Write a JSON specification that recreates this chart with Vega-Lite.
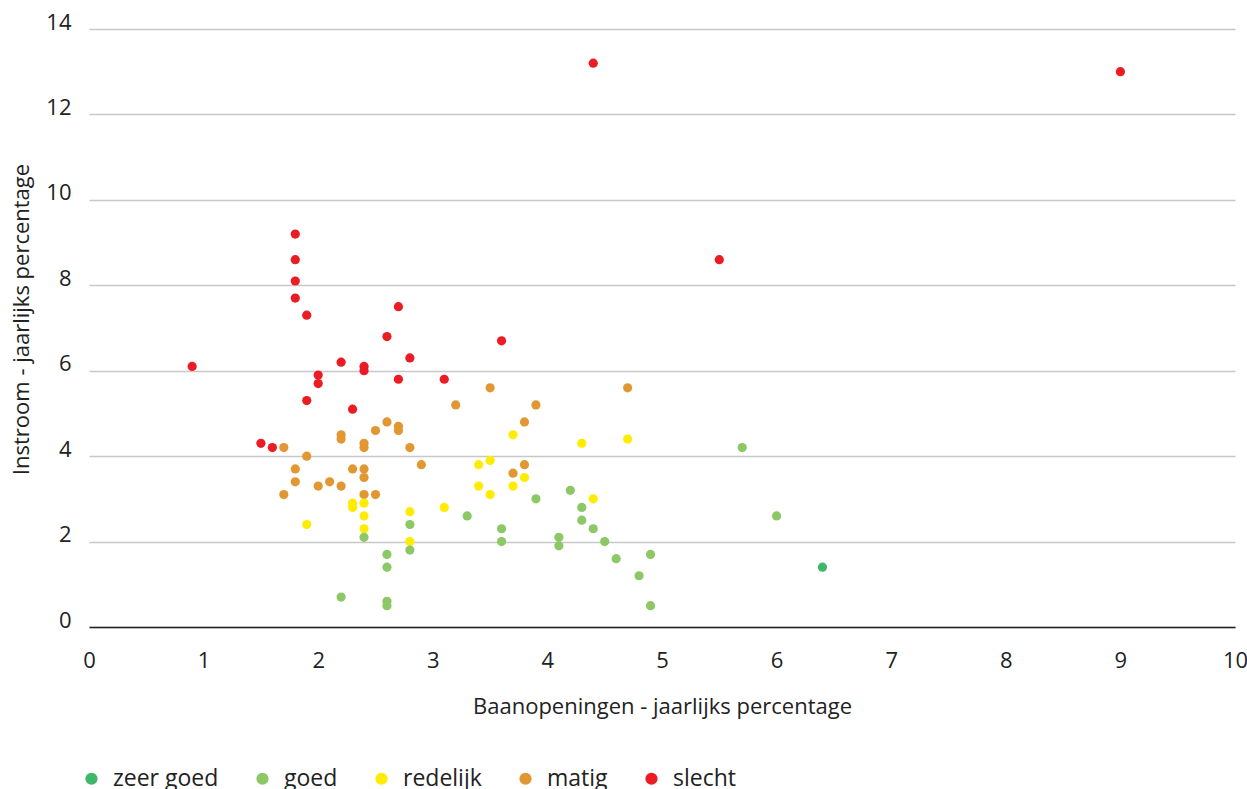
{
  "$schema": "https://vega.github.io/schema/vega-lite/v6.json",
  "width": 1146,
  "height": 598,
  "autosize": "none",
  "padding": {"left": 89, "top": 29, "right": 12, "bottom": 162},
  "config": {"view": {"stroke": null}, "font": "Open Sans"},
  "data": {"values": [
    {"x": 0.9, "y": 6.1, "c": "slecht"},
    {"x": 1.8, "y": 9.2, "c": "slecht"},
    {"x": 1.8, "y": 8.6, "c": "slecht"},
    {"x": 1.8, "y": 8.1, "c": "slecht"},
    {"x": 1.8, "y": 7.7, "c": "slecht"},
    {"x": 1.9, "y": 7.3, "c": "slecht"},
    {"x": 2.7, "y": 7.5, "c": "slecht"},
    {"x": 2.6, "y": 6.8, "c": "slecht"},
    {"x": 2.8, "y": 6.3, "c": "slecht"},
    {"x": 3.6, "y": 6.7, "c": "slecht"},
    {"x": 2.2, "y": 6.2, "c": "slecht"},
    {"x": 2.4, "y": 6.1, "c": "slecht"},
    {"x": 2.4, "y": 6.0, "c": "slecht"},
    {"x": 2.0, "y": 5.9, "c": "slecht"},
    {"x": 2.0, "y": 5.7, "c": "slecht"},
    {"x": 2.7, "y": 5.8, "c": "slecht"},
    {"x": 3.1, "y": 5.8, "c": "slecht"},
    {"x": 1.9, "y": 5.3, "c": "slecht"},
    {"x": 2.3, "y": 5.1, "c": "slecht"},
    {"x": 1.5, "y": 4.3, "c": "slecht"},
    {"x": 1.6, "y": 4.2, "c": "slecht"},
    {"x": 4.4, "y": 13.2, "c": "slecht"},
    {"x": 9.0, "y": 13.0, "c": "slecht"},
    {"x": 5.5, "y": 8.6, "c": "slecht"},
    {"x": 2.6, "y": 4.8, "c": "matig"},
    {"x": 2.7, "y": 4.7, "c": "matig"},
    {"x": 2.7, "y": 4.6, "c": "matig"},
    {"x": 2.5, "y": 4.6, "c": "matig"},
    {"x": 2.2, "y": 4.5, "c": "matig"},
    {"x": 2.2, "y": 4.4, "c": "matig"},
    {"x": 2.4, "y": 4.3, "c": "matig"},
    {"x": 2.4, "y": 4.2, "c": "matig"},
    {"x": 1.7, "y": 4.2, "c": "matig"},
    {"x": 2.8, "y": 4.2, "c": "matig"},
    {"x": 1.9, "y": 4.0, "c": "matig"},
    {"x": 2.9, "y": 3.8, "c": "matig"},
    {"x": 1.8, "y": 3.7, "c": "matig"},
    {"x": 2.3, "y": 3.7, "c": "matig"},
    {"x": 2.4, "y": 3.7, "c": "matig"},
    {"x": 2.4, "y": 3.5, "c": "matig"},
    {"x": 1.8, "y": 3.4, "c": "matig"},
    {"x": 2.1, "y": 3.4, "c": "matig"},
    {"x": 2.0, "y": 3.3, "c": "matig"},
    {"x": 2.2, "y": 3.3, "c": "matig"},
    {"x": 1.7, "y": 3.1, "c": "matig"},
    {"x": 2.4, "y": 3.1, "c": "matig"},
    {"x": 2.5, "y": 3.1, "c": "matig"},
    {"x": 3.5, "y": 5.6, "c": "matig"},
    {"x": 4.7, "y": 5.6, "c": "matig"},
    {"x": 3.2, "y": 5.2, "c": "matig"},
    {"x": 3.9, "y": 5.2, "c": "matig"},
    {"x": 3.8, "y": 4.8, "c": "matig"},
    {"x": 3.7, "y": 3.6, "c": "matig"},
    {"x": 3.8, "y": 3.8, "c": "matig"},
    {"x": 2.3, "y": 2.9, "c": "redelijk"},
    {"x": 2.3, "y": 2.8, "c": "redelijk"},
    {"x": 2.4, "y": 2.9, "c": "redelijk"},
    {"x": 2.8, "y": 2.7, "c": "redelijk"},
    {"x": 3.1, "y": 2.8, "c": "redelijk"},
    {"x": 2.4, "y": 2.6, "c": "redelijk"},
    {"x": 1.9, "y": 2.4, "c": "redelijk"},
    {"x": 2.4, "y": 2.3, "c": "redelijk"},
    {"x": 2.8, "y": 2.0, "c": "redelijk"},
    {"x": 3.7, "y": 4.5, "c": "redelijk"},
    {"x": 4.3, "y": 4.3, "c": "redelijk"},
    {"x": 4.7, "y": 4.4, "c": "redelijk"},
    {"x": 3.4, "y": 3.8, "c": "redelijk"},
    {"x": 3.5, "y": 3.9, "c": "redelijk"},
    {"x": 3.8, "y": 3.5, "c": "redelijk"},
    {"x": 3.4, "y": 3.3, "c": "redelijk"},
    {"x": 3.7, "y": 3.3, "c": "redelijk"},
    {"x": 3.5, "y": 3.1, "c": "redelijk"},
    {"x": 4.4, "y": 3.0, "c": "redelijk"},
    {"x": 2.8, "y": 2.4, "c": "goed"},
    {"x": 2.4, "y": 2.1, "c": "goed"},
    {"x": 2.8, "y": 1.8, "c": "goed"},
    {"x": 2.6, "y": 1.7, "c": "goed"},
    {"x": 2.6, "y": 1.4, "c": "goed"},
    {"x": 2.2, "y": 0.7, "c": "goed"},
    {"x": 2.6, "y": 0.6, "c": "goed"},
    {"x": 2.6, "y": 0.5, "c": "goed"},
    {"x": 3.9, "y": 3.0, "c": "goed"},
    {"x": 4.2, "y": 3.2, "c": "goed"},
    {"x": 4.3, "y": 2.8, "c": "goed"},
    {"x": 3.3, "y": 2.6, "c": "goed"},
    {"x": 4.3, "y": 2.5, "c": "goed"},
    {"x": 3.6, "y": 2.3, "c": "goed"},
    {"x": 4.4, "y": 2.3, "c": "goed"},
    {"x": 4.1, "y": 2.1, "c": "goed"},
    {"x": 3.6, "y": 2.0, "c": "goed"},
    {"x": 4.5, "y": 2.0, "c": "goed"},
    {"x": 4.1, "y": 1.9, "c": "goed"},
    {"x": 4.6, "y": 1.6, "c": "goed"},
    {"x": 4.8, "y": 1.2, "c": "goed"},
    {"x": 4.9, "y": 1.7, "c": "goed"},
    {"x": 4.9, "y": 0.5, "c": "goed"},
    {"x": 5.7, "y": 4.2, "c": "goed"},
    {"x": 6.0, "y": 2.6, "c": "goed"},
    {"x": 6.4, "y": 1.4, "c": "zeer goed"}
  ]},
  "mark": {"type": "circle", "size": 85, "opacity": 1},
  "encoding": {
    "x": {
      "field": "x", "type": "quantitative",
      "scale": {"domain": [0, 10], "nice": false},
      "axis": {
        "title": "Baanopeningen - jaarlijks percentage",
        "values": [0, 1, 2, 3, 4, 5, 6, 7, 8, 9, 10],
        "grid": false, "ticks": false,
        "domainColor": "#222222", "domainWidth": 1.5,
        "labelFontSize": 22, "labelColor": "#222222", "labelPadding": 23,
        "labelFlush": false,
        "titleFontSize": 22, "titleFontWeight": "normal", "titleColor": "#222222", "titlePadding": 25
      }
    },
    "y": {
      "field": "y", "type": "quantitative",
      "scale": {"domain": [0, 14], "nice": false},
      "axis": {
        "title": "Instroom - jaarlijks percentage",
        "values": [0, 2, 4, 6, 8, 10, 12, 14],
        "domain": false, "ticks": false,
        "gridColor": "#c8c8c8", "gridWidth": 1.5,
        "labelFontSize": 22, "labelColor": "#222222", "labelPadding": 18,
        "labelBaseline": "alphabetic", "labelFlush": false,
        "titleFontSize": 22, "titleFontWeight": "normal", "titleColor": "#222222", "titlePadding": 12,
        "titleY": 290
      }
    },
    "color": {
      "field": "c", "type": "nominal",
      "scale": {
        "domain": ["zeer goed", "goed", "redelijk", "matig", "slecht"],
        "range": ["#3db86a", "#8cc866", "#ffec00", "#e29832", "#ec1c24"]
      },
      "legend": {
        "orient": "none", "direction": "horizontal", "title": null,
        "legendX": -9, "legendY": 738, "padding": 0,
        "symbolType": "circle", "symbolSize": 150, "symbolStrokeWidth": 0, "symbolOpacity": 1,
        "labelFontSize": 23, "labelColor": "#222222", "labelOffset": 10,
        "columnPadding": 32
      }
    }
  }
}
